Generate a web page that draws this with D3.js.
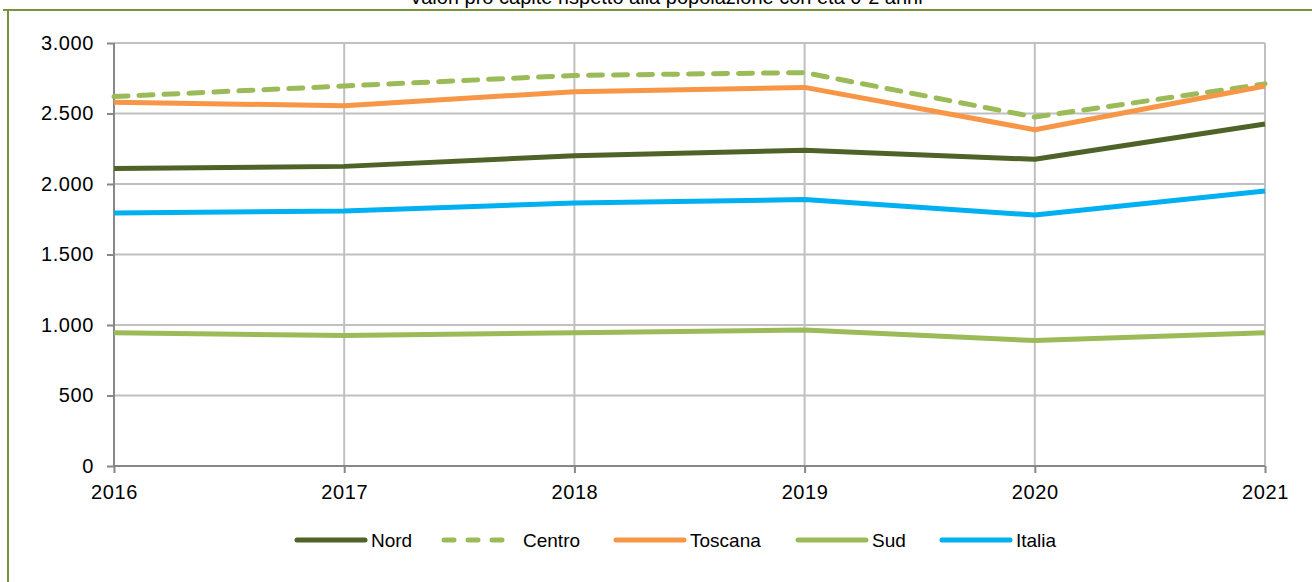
<!DOCTYPE html>
<html>
<head>
<meta charset="utf-8">
<script src="https://cdn.jsdelivr.net/npm/d3@7"></script>
<style>
  body { margin: 0; background: #fff; }
  svg { display: block; }
</style>
</head>
<body>
<svg id="chart" width="1312" height="582"></svg>
<script>
// data
const years = [2016, 2017, 2018, 2019, 2020, 2021];
const nord = [2110, 2125, 2200, 2240, 2175, 2425];
const centro = [2620, 2695, 2770, 2790, 2475, 2710];
const toscana = [2580, 2555, 2655, 2685, 2385, 2695];
const sud = [945, 925, 945, 965, 890, 945];
const italia = [1795, 1808, 1865, 1890, 1780, 1950];
const yTicks = [0, 500, 1000, 1500, 2000, 2500, 3000];

const series = [
  { name: 'Nord', values: nord, color: '#4F6228', dash: null },
  { name: 'Centro', values: centro, color: '#9BBB59', dash: '14,11' },
  { name: 'Toscana', values: toscana, color: '#F79646', dash: null },
  { name: 'Sud', values: sud, color: '#9BBB59', dash: null },
  { name: 'Italia', values: italia, color: '#00B0F0', dash: null }
];

const svg = d3.select('#chart');
const width = 1312;
const margin = { top: 43, left: 114, right: 1265, bottom: 466 };

// outer frame (olive border)
svg.append('line').attr('x1', 3).attr('x2', width).attr('y1', 10).attr('y2', 10)
  .attr('stroke', '#77933C').attr('stroke-width', 2);
svg.append('line').attr('x1', 8).attr('x2', 8).attr('y1', 10).attr('y2', 582)
  .attr('stroke', '#77933C').attr('stroke-width', 2);

// title, cut off at the top of the picture
svg.append('text')
  .attr('x', 666).attr('y', 4)
  .attr('text-anchor', 'middle')
  .attr('font-family', 'Liberation Sans, Arial, sans-serif')
  .attr('font-size', 20)
  .attr('fill', '#000')
  .text('Valori pro capite rispetto alla popolazione con età 0-2 anni');

const x = d3.scaleLinear().domain([2016, 2021]).range([margin.left, margin.right]);
const y = d3.scaleLinear().domain([0, 3000]).range([margin.bottom, margin.top]);

// grid
svg.append('g').selectAll('line')
  .data(yTicks.filter(d => d > 0))
  .enter().append('line')
  .attr('x1', margin.left).attr('x2', margin.right)
  .attr('y1', d => y(d)).attr('y2', d => y(d))
  .attr('stroke', '#C0C0C0').attr('stroke-width', 2);
svg.append('g').selectAll('line')
  .data(years.slice(1))
  .enter().append('line')
  .attr('x1', d => x(d)).attr('x2', d => x(d))
  .attr('y1', margin.top).attr('y2', margin.bottom)
  .attr('stroke', '#C0C0C0').attr('stroke-width', 2);

// axes
const yAxis = svg.append('g')
  .attr('transform', `translate(${margin.left},0)`)
  .call(d3.axisLeft(y).tickValues(yTicks).tickSize(7).tickPadding(13)
    .tickFormat(d => d3.format(',')(d).replace(/,/g, '.')));
const xAxis = svg.append('g')
  .attr('transform', `translate(0,${margin.bottom})`)
  .call(d3.axisBottom(x).tickValues(years).tickSize(7).tickPadding(12).tickFormat(d3.format('d')));

[yAxis, xAxis].forEach(ax => {
  ax.select('.domain').attr('stroke', '#878787').attr('stroke-width', 2);
  ax.selectAll('.tick line').attr('stroke', '#878787').attr('stroke-width', 2);
  ax.selectAll('.tick text')
    .attr('font-family', 'Liberation Sans, Arial, sans-serif')
    .attr('font-size', 20)
    .attr('letter-spacing', 0.6)
    .attr('fill', '#000');
});
yAxis.select('.domain').attr('d', `M0,${margin.top}V${margin.bottom}`);
xAxis.select('.domain').attr('d', `M${margin.left},0H${margin.right}`);

// lines
const line = d3.line()
  .x((d, i) => x(years[i]))
  .y(d => y(d));

svg.append('g').selectAll('path')
  .data(series)
  .enter().append('path')
  .attr('d', d => line(d.values))
  .attr('fill', 'none')
  .attr('stroke', d => d.color)
  .attr('stroke-width', 5)
  .attr('stroke-linejoin', 'round')
  .attr('stroke-linecap', d => d.dash ? 'round' : 'butt')
  .attr('stroke-dasharray', d => d.dash);

// legend
const legendX = [297, 444, 616, 798, 942];
const legend = svg.append('g').selectAll('g')
  .data(series)
  .enter().append('g')
  .attr('transform', (d, i) => `translate(${legendX[i]},540)`);
legend.append('line')
  .attr('x1', 0).attr('x2', d => d.dash ? 64 : 68)
  .attr('y1', 0).attr('y2', 0)
  .attr('stroke', d => d.color)
  .attr('stroke-width', 5)
  .attr('stroke-linecap', 'round')
  .attr('stroke-dasharray', d => d.dash ? '10,14' : null);
legend.append('text')
  .attr('x', d => d.dash ? 79 : 74)
  .attr('y', 7)
  .attr('font-family', 'Liberation Sans, Arial, sans-serif')
  .attr('font-size', 19)
  .attr('fill', '#000')
  .text(d => d.name);
</script>
</body>
</html>
